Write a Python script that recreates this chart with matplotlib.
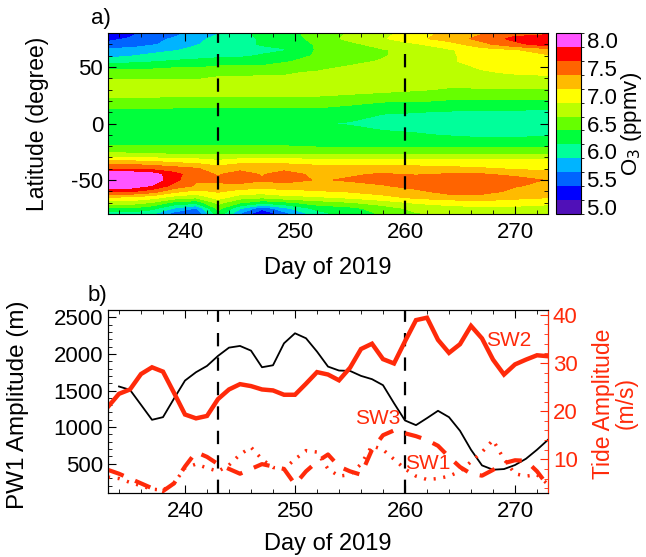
import numpy as np
import matplotlib
matplotlib.use("Agg")
import matplotlib.pyplot as plt
from matplotlib.colors import ListedColormap, BoundaryNorm
from matplotlib.ticker import MultipleLocator

plt.rcParams['font.family'] = ['Liberation Sans', 'DejaVu Sans']
plt.rcParams['axes.unicode_minus'] = False

# ---- panel a) zonal mean O3 (ppmv) ----
o3_days = [233, 235, 237, 239, 241, 243, 245, 247, 249, 252, 255, 258, 261, 264, 267, 270, 273]
o3_lats = [80, 75, 70, 65, 60, 55, 50, 45, 40, 30, 20, 10, 0, -10, -20, -25, -30,
           -35, -40, -45, -50, -55, -60, -65, -70, -75, -80]
o3 = [
    [5.25, 5.3, 5.5, 5.55, 5.7, 5.85, 6.05, 6.2, 6.3, 6.45, 6.65, 6.8, 7.0, 7.2, 7.35, 7.5, 7.55],
    [5.3, 5.4, 5.55, 5.65, 5.8, 5.95, 6.05, 6.15, 6.25, 6.45, 6.7, 6.85, 7.05, 7.25, 7.45, 7.7, 7.8],
    [5.45, 5.5, 5.6, 5.7, 5.85, 6.0, 6.05, 6.15, 6.2, 6.4, 6.55, 6.75, 6.85, 7.0, 7.3, 7.55, 7.75],
    [5.7, 5.7, 5.75, 5.85, 5.95, 6.0, 6.0, 6.05, 6.1, 6.4, 6.5, 6.6, 6.75, 6.85, 7.0, 7.1, 7.25],
    [5.8, 5.85, 5.95, 6.0, 6.0, 6.05, 6.05, 6.15, 6.25, 6.4, 6.5, 6.6, 6.75, 6.85, 6.95, 7.05, 7.1],
    [6.0, 6.05, 6.1, 6.15, 6.2, 6.25, 6.3, 6.3, 6.35, 6.45, 6.55, 6.65, 6.75, 6.85, 6.95, 7.0, 7.05],
    [6.3, 6.3, 6.3, 6.35, 6.35, 6.4, 6.4, 6.4, 6.45, 6.55, 6.65, 6.7, 6.75, 6.8, 6.9, 6.95, 7.0],
    [6.45, 6.5, 6.5, 6.5, 6.55, 6.55, 6.55, 6.6, 6.6, 6.65, 6.7, 6.75, 6.75, 6.8, 6.85, 6.9, 6.95],
    [6.6, 6.6, 6.6, 6.6, 6.6, 6.65, 6.65, 6.65, 6.65, 6.7, 6.75, 6.75, 6.75, 6.75, 6.8, 6.8, 6.8],
    [6.8, 6.8, 6.8, 6.8, 6.8, 6.8, 6.8, 6.8, 6.8, 6.8, 6.75, 6.7, 6.65, 6.6, 6.6, 6.6, 6.6],
    [6.55, 6.55, 6.55, 6.5, 6.5, 6.5, 6.5, 6.5, 6.5, 6.5, 6.45, 6.4, 6.4, 6.35, 6.35, 6.35, 6.35],
    [6.3, 6.3, 6.3, 6.3, 6.3, 6.3, 6.3, 6.3, 6.3, 6.3, 6.25, 6.15, 6.13, 6.1, 6.08, 6.08, 6.05],
    [6.3, 6.3, 6.3, 6.3, 6.3, 6.3, 6.3, 6.3, 6.3, 6.15, 6.1, 6.0, 6.0, 5.95, 5.95, 5.95, 5.95],
    [6.3, 6.3, 6.3, 6.3, 6.3, 6.3, 6.3, 6.3, 6.3, 6.3, 6.25, 6.2, 6.15, 6.1, 6.05, 6.05, 6.1],
    [6.38, 6.38, 6.38, 6.38, 6.38, 6.38, 6.38, 6.38, 6.38, 6.35, 6.35, 6.35, 6.35, 6.35, 6.35, 6.35, 6.35],
    [6.6, 6.55, 6.5, 6.5, 6.5, 6.5, 6.5, 6.5, 6.5, 6.5, 6.5, 6.5, 6.5, 6.5, 6.5, 6.5, 6.5],
    [6.9, 6.85, 6.85, 6.8, 6.8, 6.75, 6.8, 6.8, 6.8, 6.8, 6.8, 6.8, 6.8, 6.8, 6.8, 6.8, 6.8],
    [7.3, 7.3, 7.25, 7.15, 7.1, 7.0, 7.1, 7.1, 7.1, 7.05, 7.05, 7.05, 7.0, 7.0, 7.0, 7.0, 7.0],
    [7.6, 7.6, 7.55, 7.5, 7.4, 7.25, 7.3, 7.3, 7.3, 7.25, 7.25, 7.25, 7.25, 7.2, 7.15, 7.1, 7.05],
    [8.1, 8.1, 8.0, 7.7, 7.5, 7.35, 7.5, 7.35, 7.5, 7.3, 7.35, 7.4, 7.35, 7.4, 7.4, 7.3, 7.25],
    [8.1, 8.1, 8.05, 7.7, 7.4, 7.45, 7.55, 7.4, 7.5, 7.35, 7.4, 7.5, 7.55, 7.6, 7.6, 7.5, 7.35],
    [8.05, 8.05, 7.85, 7.55, 7.35, 7.3, 7.25, 7.25, 7.25, 7.25, 7.3, 7.35, 7.5, 7.55, 7.55, 7.4, 7.3],
    [7.65, 7.65, 7.5, 7.2, 7.05, 7.15, 7.05, 7.0, 7.05, 7.1, 7.15, 7.25, 7.3, 7.5, 7.5, 7.3, 7.25],
    [7.15, 7.1, 7.0, 6.8, 6.7, 7.0, 6.75, 6.7, 6.8, 6.85, 6.95, 7.05, 7.2, 7.25, 7.25, 7.2, 7.15],
    [6.75, 6.75, 6.6, 6.3, 6.2, 6.7, 6.4, 6.2, 6.3, 6.5, 6.6, 6.75, 6.9, 7.0, 7.05, 7.0, 6.95],
    [6.35, 6.35, 6.2, 5.85, 5.6, 6.45, 5.9, 5.45, 5.8, 6.2, 6.3, 6.5, 6.7, 6.75, 6.8, 6.8, 6.75],
    [6.0, 6.0, 5.9, 5.5, 5.35, 6.3, 5.6, 5.1, 5.5, 6.0, 6.25, 6.4, 6.6, 6.65, 6.7, 6.7, 6.65],
]
o3_colors = ['#5010b8', '#0000ff', '#0064ff', '#00b4ff', '#00ff9a', '#00ff3c',
             '#66ff00', '#bbff00', '#ffff00', '#ffbb00', '#ff6400', '#ff0000', '#ff55ff']
o3_ticks = [5.0, 5.5, 6.0, 6.5, 7.0, 7.5, 8.0]

# ---- panel b) amplitudes ----
days = list(range(233, 274))
pw1 = [np.nan, 1555, 1509, 1305, 1100, 1136, 1390, 1636, 1750, 1836, 1973, 2086, 2109, 2045,
       1818, 1845, 2145, 2282, 2214, 2032, 1827, 1773, 1768, 1700, 1655, 1573, 1327, 1091,
       1027, 1123, 1223, 1136, 950, 691, 477, 418, 427, 482, 568, 691, 827]
sw2 = [20.9, 23.6, 24.5, 27.7, 29.1, 28.2, 23.8, 19.3, 18.5, 19.0, 22.5, 24.5, 25.6, 25.2,
       24.5, 24.3, 23.4, 23.4, 25.7, 28.1, 27.6, 26.4, 29.0, 32.9, 34.0, 30.8, 29.9, 34.5,
       38.9, 39.4, 34.8, 32.1, 33.9, 37.7, 35.1, 30.7, 27.6, 29.7, 30.7, 31.6, 31.4]
sw3 = [7.8, 7.0, 6.0, 5.0, 4.0, 3.4, 5.0, 8.5, 11.5, 10.5, 9.0, 8.0, 7.0, 8.0, 9.0, 8.5,
       8.0, 4.8, 7.5, 9.5, 11.0, 8.5, 7.5, 6.8, 12.0, 15.0, 16.0, 15.4, 14.8, 14.0, 12.8,
       10.5, 8.4, 7.0, 6.6, 7.8, 9.2, 9.8, 9.7, 7.5, 4.5]
sw1 = [6.3, 6.0, 5.2, 4.5, 3.8, 3.6, 5.0, 8.2, 9.0, 8.2, 7.5, 8.8, 11.0, 12.5, 10.0, 8.3,
       8.0, 10.0, 11.8, 11.5, 8.0, 6.5, 6.8, 9.0, 12.8, 12.0, 10.0, 8.0, 6.5, 5.8, 6.0,
       6.5, 7.5, 9.5, 11.5, 14.0, 10.0, 7.0, 6.5, 6.8, 4.8]
event_days = [243, 260]

RED = '#ff2a0a'
FS = 16      # tick labels
FSX = 17     # x titles

fig = plt.figure(figsize=(6.46, 5.57), dpi=100)
ax1 = fig.add_axes([108/646, 1-214/557, 440/646, 181/557])
cax = fig.add_axes([556/646, 1-214/557, 25/646, 181/557])
ax2 = fig.add_axes([108/646, 1-493/557, 440/646, 183/557])

# panel a
bounds = np.arange(4.875, 8.2, 0.25)
cmap = ListedColormap(o3_colors)
norm = BoundaryNorm(bounds, cmap.N)
cf = ax1.contourf(o3_days, o3_lats, o3, levels=bounds, cmap=cmap, norm=norm)
for d in event_days:
    ax1.axvline(d, color='k', ls=(0, (6, 5)), lw=1.6)
ax1.set_xlim(233, 273)
ax1.set_ylim(-80, 80)
ax1.set_yticks([-50, 0, 50])
ax1.yaxis.set_minor_locator(MultipleLocator(10))
ax1.set_xticks([240, 250, 260, 270])
ax1.xaxis.set_minor_locator(MultipleLocator(2))
ax1.tick_params(which='both', direction='in', top=True, right=True, labelsize=FS)
ax1.tick_params(which='major', length=6)
ax1.tick_params(which='minor', length=3)
ax1.tick_params(axis='x', pad=6)
ax1.set_xlabel('Day of 2019', fontsize=FSX)
ax1.xaxis.set_label_coords(0.5, -0.235)
ax1.set_ylabel('Latitude (degree)', fontsize=16.5)
ax1.yaxis.set_label_coords(-0.135, 0.5)
ax1.text(0.007, 1.02, 'a)', transform=ax1.transAxes, fontsize=FS, ha='right', va='bottom')

cb = fig.colorbar(cf, cax=cax, ticks=o3_ticks)
cb.ax.tick_params(length=0, labelsize=FS, pad=4)
cb.ax.set_yticklabels(['%.1f' % t for t in o3_ticks])
cb.set_label('O$_3$ (ppmv)', fontsize=FS, labelpad=1)

# panel b
ax2.plot(days, pw1, color='k', lw=1.3)
ax2.set_xlim(233, 273)
ax2.set_ylim(100, 2600)
ax2.set_yticks([500, 1000, 1500, 2000, 2500])
ax2.yaxis.set_minor_locator(MultipleLocator(100))
ax2.set_xticks([240, 250, 260, 270])
ax2.xaxis.set_minor_locator(MultipleLocator(2))
ax2.tick_params(which='both', direction='in', top=True, labelsize=FS)
ax2.tick_params(which='major', length=6)
ax2.tick_params(which='minor', length=3)
ax2.tick_params(axis='x', pad=6)
ax2.set_xlabel('Day of 2019', fontsize=FSX)
ax2.xaxis.set_label_coords(0.5, -0.22)
ax2.set_ylabel('PW1 Amplitude (m)', fontsize=17.5)
ax2.yaxis.set_label_coords(-0.18, 0.48)
for d in event_days:
    ax2.axvline(d, color='k', ls=(0, (6, 5)), lw=1.6)
ax2.text(-0.002, 1.02, 'b)', transform=ax2.transAxes, fontsize=FS, ha='right', va='bottom')

tw = ax2.twinx()
tw.plot(days, sw2, color=RED, lw=3.2, solid_joinstyle='miter')
tw.plot(days, sw3, color=RED, lw=3.0, ls=(0, (4, 3)))
tw.plot(days, sw1, color=RED, lw=2.5, ls=(0, (0.6, 2.2)))
tw.set_ylim(3, 41)
tw.set_yticks([10, 20, 30, 40])
tw.yaxis.set_minor_locator(MultipleLocator(2))
tw.tick_params(which='both', direction='in', colors=RED, labelsize=FS)
tw.tick_params(which='major', length=6)
tw.tick_params(which='minor', length=3)
tw.spines['right'].set_color(RED)
tw.set_ylabel('Tide Amplitude\n(m/s)', color=RED, fontsize=16.5, linespacing=1.0)
tw.yaxis.set_label_coords(1.1, 0.49)
tw.text(269.4, 34.6, 'SW2', color=RED, fontsize=FS - 1, ha='center', va='center')
tw.text(257.5, 18.5, 'SW3', color=RED, fontsize=FS - 1, ha='center', va='center')
tw.text(262.1, 9.2, 'SW1', color=RED, fontsize=FS - 1, ha='center', va='center')

fig.savefig('out.png', dpi=100)
